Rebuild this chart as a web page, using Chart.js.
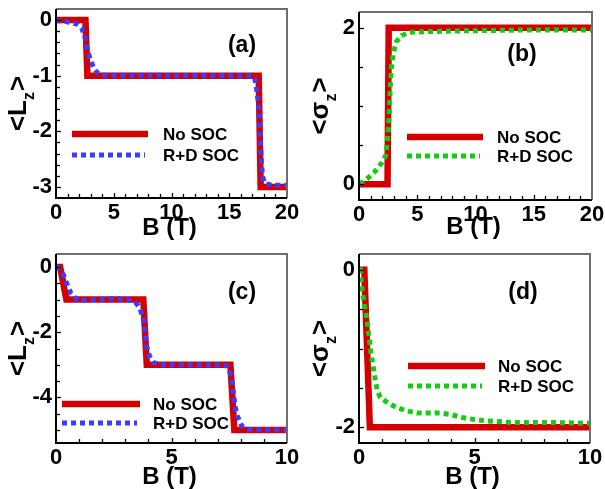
<!DOCTYPE html>
<html><head><meta charset="utf-8">
<script src="https://cdn.jsdelivr.net/npm/chart.js@4.4.1/dist/chart.umd.min.js"></script>
<style>
html,body{margin:0;padding:0;background:#fff;}
#wrap{position:relative;width:605px;height:489px;overflow:hidden;background:#fff;}
.p{position:absolute;}
</style></head><body>
<div id="wrap">
<div class="p" style="left:0;top:0;width:300px;height:244px"><canvas id="ca"></canvas></div>
<div class="p" style="left:300px;top:0;width:305px;height:244px"><canvas id="cb"></canvas></div>
<div class="p" style="left:0;top:244px;width:300px;height:245px"><canvas id="cc"></canvas></div>
<div class="p" style="left:300px;top:244px;width:305px;height:245px"><canvas id="cd"></canvas></div>
</div>
<script>
// ---------- data ----------
const seriesNames = ['No SOC', 'R+D SOC'];
const panelLabels = ['(a)', '(b)', '(c)', '(d)'];
const xTitle = 'B (T)';

// (a) <Lz>
const bNoA = [0, 2.55, 2.72, 17.55, 17.72, 20];
const lzNoA = [0, 0, -1, -1, -3, -3];
const bRdA = [0, 0.08, 0.95, 1.81, 2.24, 2.53, 2.73, 2.96, 3.25, 3.54, 3.97, 17.0, 17.22, 17.37, 17.51, 17.6, 17.66, 17.72, 17.8, 17.89, 18.09, 18.8, 20];
const lzRdA = [0, -0.01, -0.03, -0.07, -0.15, -0.32, -0.53, -0.71, -0.85, -0.94, -0.99, -1.0, -1.06, -1.24, -1.47, -1.71, -2.0, -2.29, -2.59, -2.82, -2.94, -2.97, -2.97];

// (b) <sigma z>
const bNoB = [0, 2.45, 2.55, 20];
const szNoB = [0, 0, 2, 2];
const bRdB = [0, 0.2, 0.77, 1.35, 1.93, 2.3, 2.41, 2.5, 2.58, 2.64, 2.7, 2.79, 2.93, 3.21, 3.65, 4.36, 5.8, 9.24, 14, 20];
const szRdB = [0.02, 0.02, 0.08, 0.16, 0.27, 0.37, 0.52, 0.65, 0.86, 1.07, 1.29, 1.5, 1.67, 1.82, 1.9, 1.94, 1.95, 1.96, 1.97, 1.97];

// (c) <Lz>
const bNoC = [0, 0.18, 0.45, 3.78, 3.93, 7.55, 7.72, 10];
const lzNoC = [0, 0, -1, -1, -3, -3, -5, -5];
const bRdC = [0, 0.11, 0.33, 0.47, 0.65, 0.94, 1.34, 1.77, 2.2, 2.64, 3.07, 3.43, 3.64, 3.79, 3.86, 3.93, 4.05, 4.22, 4.51, 7.0, 7.39, 7.5, 7.61, 7.68, 7.75, 7.85, 8.04, 8.33, 10];
const lzRdC = [0, -0.02, -0.25, -0.51, -0.81, -1.02, -1.02, -1.0, -0.98, -0.97, -1.0, -1.07, -1.27, -1.63, -2.03, -2.44, -2.74, -2.93, -3.0, -3.0, -3.03, -3.15, -3.46, -3.86, -4.27, -4.57, -4.88, -4.98, -5.0];

// (d) <sigma z>
const bNoD = [0, 0.23, 0.47, 10];
const szNoD = [0, 0, -2, -2];
const bRdD = [0, 0.06, 0.09, 0.13, 0.2, 0.27, 0.35, 0.39, 0.45, 0.49, 0.56, 0.63, 0.7, 0.78, 0.92, 1.24, 1.64, 2.04, 2.51, 3.01, 3.51, 3.99, 4.52, 4.95, 5.53, 6.68, 8.41, 10];
const szRdD = [0, 0, -0.13, -0.26, -0.38, -0.51, -0.63, -0.76, -0.88, -1.0, -1.13, -1.26, -1.39, -1.52, -1.62, -1.69, -1.75, -1.79, -1.82, -1.82, -1.82, -1.84, -1.88, -1.9, -1.92, -1.94, -1.94, -1.95];

// ---------- drawing ----------
const F = '"Liberation Sans", Arial, Helvetica, sans-serif';
const RED = '#d20000', BLUE = '#3c3cff', GREEN = '#14cc14';

const deco = {
  id: 'deco',
  afterDatasetsDraw(chart, args, o) {
    const ctx = chart.ctx, a = chart.chartArea;
    const xs = chart.scales.x, ys = chart.scales.y;
    ctx.save();
    // inward ticks
    ctx.strokeStyle = '#000'; ctx.lineWidth = 1.3;
    xs.ticks.forEach(t => {
      if (t.value <= xs.min + 1e-9 || t.value >= xs.max - 1e-9) return;
      const px = Math.round(xs.getPixelForValue(t.value)) + 0.5;
      const len = t.label ? 5 : 4;
      ctx.beginPath(); ctx.moveTo(px, a.bottom); ctx.lineTo(px, a.bottom - len); ctx.stroke();
    });
    ys.ticks.forEach(t => {
      if (t.value <= ys.min + 1e-9 || t.value >= ys.max - 1e-9) return;
      const py = Math.round(ys.getPixelForValue(t.value)) + 0.5;
      const len = t.label ? 5 : 4;
      ctx.beginPath(); ctx.moveTo(a.left, py); ctx.lineTo(a.left + len, py); ctx.stroke();
    });
    // frame
    ctx.lineWidth = 2;
    ctx.strokeStyle = '#6e6e6e';
    ctx.beginPath(); ctx.moveTo(a.left, a.top); ctx.lineTo(a.right, a.top); ctx.lineTo(a.right, a.bottom); ctx.stroke();
    ctx.strokeStyle = '#000';
    ctx.beginPath(); ctx.moveTo(a.left, a.top); ctx.lineTo(a.left, a.bottom); ctx.lineTo(a.right, a.bottom); ctx.stroke();
    // legend
    const L = o.legend;
    chart.data.datasets.forEach((d, i) => {
      const y = L.ys[i];
      ctx.save();
      ctx.strokeStyle = d.borderColor; ctx.lineWidth = d.borderWidth;
      ctx.setLineDash(d.borderDash || []); ctx.lineCap = 'butt';
      ctx.beginPath(); ctx.moveTo(L.x0, y); ctx.lineTo(L.x1[i], y); ctx.stroke();
      ctx.restore();
      ctx.fillStyle = '#000'; ctx.font = 'bold 17px ' + F;
      ctx.textAlign = 'left'; ctx.textBaseline = 'middle';
      ctx.fillText(d.label, L.tx, y + 1);
    });
    // panel label
    ctx.fillStyle = '#000'; ctx.font = 'bold 23px ' + F;
    ctx.textAlign = 'center'; ctx.textBaseline = 'middle';
    ctx.fillText(o.tag.text, o.tag.x, o.tag.y);
    // x title
    ctx.font = 'bold 24px ' + F; ctx.textBaseline = 'alphabetic';
    ctx.fillText(xTitle, (a.left + a.right) / 2 - 2, o.xTitleY);
    // y title with subscript
    const T = o.yTitle;
    ctx.save();
    ctx.translate(T.x, (a.top + a.bottom) / 2);
    ctx.rotate(-Math.PI / 2);
    const big = 'bold 26px ' + F, small = 'bold 16px ' + F;
    ctx.font = big; const w1 = ctx.measureText(T.pre).width, w3 = ctx.measureText(T.post).width;
    ctx.font = small; const w2 = ctx.measureText(T.sub).width;
    let x = -(w1 + w2 + w3 + 1) / 2;
    ctx.textAlign = 'left';
    ctx.font = big; ctx.fillText(T.pre, x, 0); x += w1;
    ctx.font = small; ctx.fillText(T.sub, x, 8); x += w2 + 1;
    ctx.font = big; ctx.fillText(T.post, x, 0);
    ctx.restore();
    ctx.restore();
  }
};

function mk(id, P) {
  const W = P.w, H = P.h, A = P.area;
  const ds = [
    {label: seriesNames[0], x: P.x0, y: P.y0, color: RED, width: 6.5, dash: [], order: 2},
    {label: seriesNames[1], x: P.x1, y: P.y1, color: P.dotColor, width: 5, dash: [5, 4], order: 1}
  ];
  return new Chart(document.getElementById(id), {
    type: 'scatter',
    data: { datasets: ds.map(s => ({
      label: s.label,
      data: s.x.map((v, i) => ({x: v, y: s.y[i]})),
      showLine: true, borderColor: s.color, backgroundColor: s.color,
      borderWidth: s.width, borderDash: s.dash, borderCapStyle: 'butt', borderJoinStyle: 'miter',
      pointRadius: 0, pointHoverRadius: 0, tension: 0, fill: false, order: s.order
    }))},
    options: {
      responsive: true, maintainAspectRatio: false, animation: false, devicePixelRatio: 1,
      events: [],
      layout: {padding: {top: A.top, right: W - A.right, left: 0, bottom: 0}},
      plugins: {legend: {display: false}, tooltip: {enabled: false}, title: {display: false}, deco: P.deco},
      scales: {
        x: {
          type: 'linear', min: P.xMin, max: P.xMax,
          grid: {display: false, drawTicks: false}, border: {display: false},
          ticks: {stepSize: 1, autoSkip: false, includeBounds: false, maxRotation: 0, minRotation: 0, padding: 2, color: '#000',
            font: {family: F, size: 22, weight: 'bold'},
            callback: v => (Math.abs(v / P.xMajor - Math.round(v / P.xMajor)) < 1e-6 ? String(Math.round(v)) : '')},
          afterFit: s => { s.height = H - A.bottom; s.paddingLeft = 0; s.paddingRight = 0; }
        },
        y: {
          type: 'linear', min: P.yMin, max: P.yMax,
          grid: {display: false, drawTicks: false}, border: {display: false},
          ticks: {stepSize: P.yStep, autoSkip: false, includeBounds: false, padding: 4, color: '#000',
            font: {family: F, size: 22, weight: 'bold'},
            callback: v => {
              const r = Math.round(v);
              return (Math.abs(v - r) < 1e-6 && r % P.yMajor === 0) ? String(r === 0 ? 0 : r) : '';
            }},
          afterFit: s => { s.width = A.left; s.paddingTop = 0; s.paddingBottom = 0; }
        }
      }
    },
    plugins: [deco]
  });
}

mk('ca', {w: 300, h: 244, area: {left: 56, top: 9, right: 287, bottom: 198},
  x0: bNoA, y0: lzNoA, x1: bRdA, y1: lzRdA, dotColor: BLUE,
  xMin: 0, xMax: 20, xMajor: 5, yMin: -3.2, yMax: 0.2, yStep: 0.2, yMajor: 1,
  deco: {legend: {x0: 72, x1: [148, 145], ys: [134, 155], tx: 163},
         tag: {text: panelLabels[0], x: 242, y: 46}, xTitleY: 235,
         yTitle: {x: 26, pre: '<L', sub: 'z', post: '>'}}});

mk('cb', {w: 305, h: 244, area: {left: 59, top: 12, right: 292, bottom: 200},
  x0: bNoB, y0: szNoB, x1: bRdB, y1: szRdB, dotColor: GREEN,
  xMin: 0, xMax: 20, xMajor: 5, yMin: -0.2, yMax: 2.2, yStep: 0.5, yMajor: 2,
  deco: {legend: {x0: 107, x1: [183, 180], ys: [137, 156], tx: 197},
         tag: {text: panelLabels[1], x: 222, y: 55}, xTitleY: 234,
         yTitle: {x: 28, pre: '<\u03c3', sub: 'z', post: '>'}}});

mk('cc', {w: 300, h: 245, area: {left: 56, top: 10, right: 287, bottom: 199},
  x0: bNoC, y0: lzNoC, x1: bRdC, y1: lzRdC, dotColor: BLUE,
  xMin: 0, xMax: 10, xMajor: 5, yMin: -5.4, yMax: 0.4, yStep: 0.5, yMajor: 2,
  deco: {legend: {x0: 62, x1: [140, 137], ys: [160, 179], tx: 153},
         tag: {text: panelLabels[2], x: 242, y: 49}, xTitleY: 240,
         yTitle: {x: 26, pre: '<L', sub: 'z', post: '>'}}});

mk('cd', {w: 305, h: 245, area: {left: 59, top: 10, right: 290, bottom: 199},
  x0: bNoD, y0: szNoD, x1: bRdD, y1: szRdD, dotColor: GREEN,
  xMin: 0, xMax: 10, xMajor: 5, yMin: -2.2, yMax: 0.2, yStep: 0.5, yMajor: 2,
  deco: {legend: {x0: 108, x1: [185, 182], ys: [122, 142], tx: 198},
         tag: {text: panelLabels[3], x: 223, y: 49}, xTitleY: 240,
         yTitle: {x: 28, pre: '<\u03c3', sub: 'z', post: '>'}}});
</script>
</body></html>
